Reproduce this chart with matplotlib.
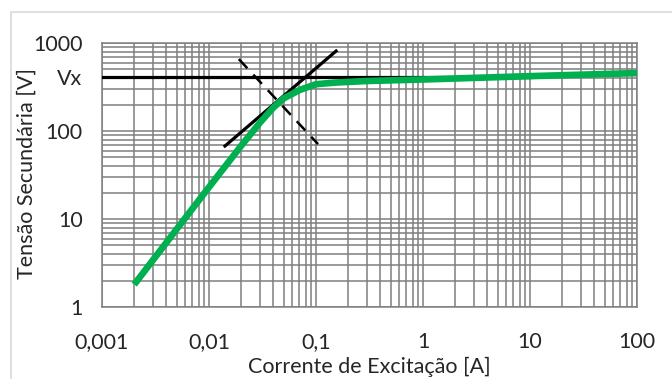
import matplotlib

matplotlib.use("Agg")
import matplotlib.pyplot as plt
from matplotlib.patches import Rectangle
from matplotlib.ticker import FixedFormatter, FixedLocator, LogLocator, NullFormatter

plt.rcParams["font.family"] = ["Lato", "DejaVu Sans"]

# excitation curve
current = [0.002, 0.005, 0.01, 0.02, 0.03, 0.04, 0.05, 0.07, 0.1, 0.15, 0.3, 1, 10, 100]
voltage = [1.8, 7.7, 23, 68, 125, 185, 235, 292, 340, 355, 370, 385, 420, 455]

# knee construction lines
vx_level = 410
vx_span = [0.001, 10]
tangent_x = [0.0141, 0.154]
tangent_y = [67.5, 810]
normal_x = [0.019, 0.1045]
normal_y = [656, 71]

y_ticks = [1, 10, 100, vx_level, 1000]
y_labels = ["1", "10", "100", "Vx", "1000"]
x_ticks = [0.001, 0.01, 0.1, 1, 10, 100]
x_labels = ["0,001", "0,01", "0,1", "1", "10", "100"]

fig = plt.figure(figsize=(6.72, 3.79), dpi=100)
fig.patches.append(
    Rectangle((11 / 672, -0.05), 1.0, 1 - 12 / 379 + 0.05, transform=fig.transFigure,
              fill=False, edgecolor="#d9d9d9", linewidth=1.2)
)
ax = fig.add_axes([102 / 672, 1 - 307 / 379, 535 / 672, 264 / 379])

ax.set_xscale("log")
ax.set_yscale("log")
ax.set_xlim(0.001, 100)
ax.set_ylim(1, 1000)

ax.xaxis.set_major_locator(FixedLocator(x_ticks))
ax.xaxis.set_major_formatter(FixedFormatter(x_labels))
ax.yaxis.set_major_locator(FixedLocator(y_ticks))
ax.yaxis.set_major_formatter(FixedFormatter(y_labels))
ax.xaxis.set_minor_locator(LogLocator(base=10, subs=range(2, 10), numticks=20))
ax.yaxis.set_minor_locator(LogLocator(base=10, subs=range(2, 10), numticks=20))
ax.xaxis.set_minor_formatter(NullFormatter())
ax.yaxis.set_minor_formatter(NullFormatter())

ax.tick_params(which="both", length=0, labelsize=15.5, colors="#262626")
ax.tick_params(axis="x", pad=18)
ax.tick_params(axis="y", pad=14)

ax.grid(True, which="both", color="#7f7f7f", linewidth=1.1)
ax.grid(False, axis="y", which="major")
for y in [1, 10, 100, 1000]:
    ax.axhline(y, color="#7f7f7f", linewidth=1.1, zorder=0.5)
for spine in ax.spines.values():
    spine.set_color("#7f7f7f")
    spine.set_linewidth(1.1)
ax.set_axisbelow(True)

ax.plot(vx_span, [vx_level, vx_level], color="black", linewidth=2.3, zorder=3)
ax.plot(tangent_x, tangent_y, color="black", linewidth=2.3, zorder=3)
ax.plot(normal_x, normal_y, color="black", linewidth=1.8, linestyle=(0, (5, 3.5)), zorder=3)
ax.plot(current, voltage, color="#00b050", linewidth=4.8, solid_capstyle="butt", zorder=4)

ax.set_xlabel("Corrente de Excitação [A]", fontsize=15.5, color="#262626")
ax.set_ylabel("Tensão Secundária [V]", fontsize=15.5, color="#262626")
ax.xaxis.set_label_coords(0.5, -0.19)
ax.yaxis.set_label_coords(-0.123, 0.506)

fig.savefig("out.png", dpi=100)
